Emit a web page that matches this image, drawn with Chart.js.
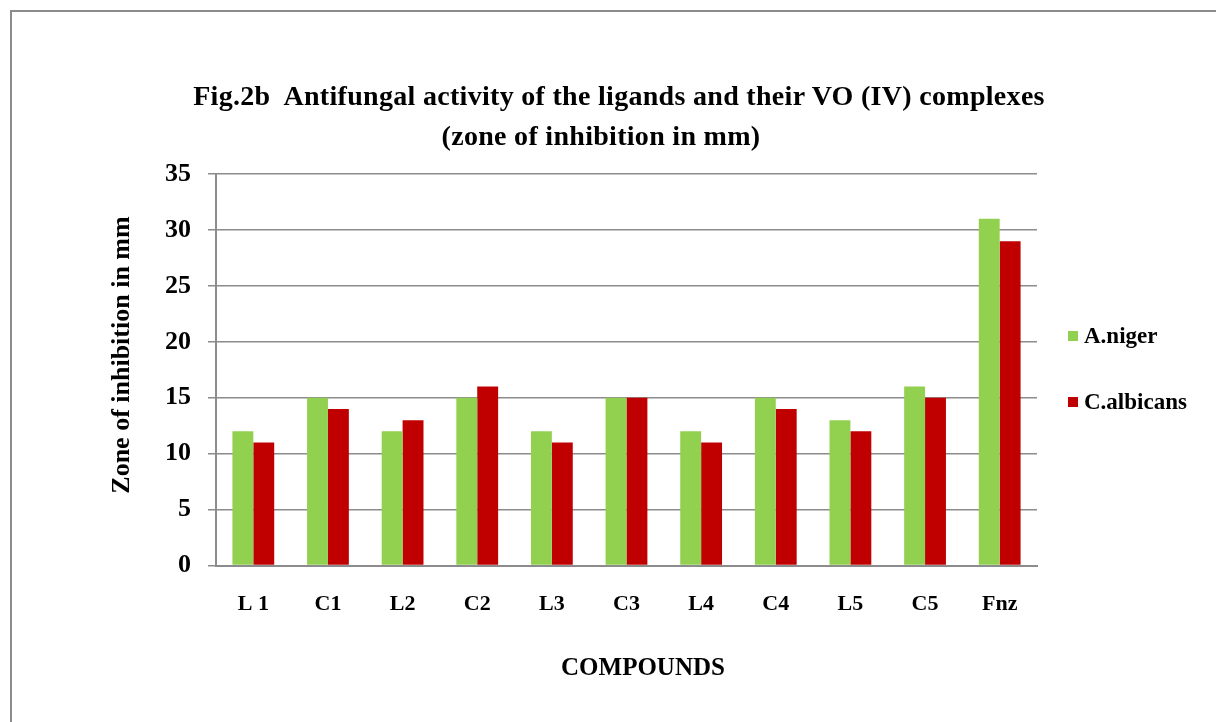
<!DOCTYPE html>
<html>
<head>
<meta charset="utf-8">
<script src="https://cdn.jsdelivr.net/npm/chart.js@4"></script>
<style>
  html, body { margin: 0; padding: 0; background: #fff; overflow: hidden; }
  #frame {
    position: absolute; left: 10px; top: 10px; width: 1400px; height: 900px;
    border: 2px solid #8c8c8c; box-sizing: border-box;
  }
  #wrap { position: absolute; left: 0; top: 0; width: 1216px; height: 722px; }
  .txt { position: absolute; font-family: "Liberation Serif", "Times New Roman", serif; font-weight: bold; color: #000; white-space: nowrap; }
  .tit { left: 0; text-align: center; font-size: 28px; line-height: 37px; letter-spacing: 0.3px; }
  #tituloX { left: 0; width: 1286px; top: 652px; text-align: center; font-size: 25px; line-height: 30px; }
  #tituloY {
    left: -79px; top: 340px; width: 400px; text-align: center; font-size: 26px; line-height: 30px;
    transform: rotate(-90deg); transform-origin: 50% 50%;
  }
  .leg { left: 1068px; font-size: 23px; line-height: 26px; display: flex; align-items: center; }
  .leg i { display: inline-block; width: 10px; height: 10px; margin-right: 6px; }
</style>
</head>
<body>
<div id="frame"></div>
<div id="wrap"><canvas id="grafico" width="1216" height="722"></canvas></div>
<div class="txt tit" style="top:77px; width:1238px">Fig.2b&nbsp; Antifungal activity of the ligands and their VO (IV) complexes</div>
<div class="txt tit" style="top:117px; width:1202px">(zone of inhibition in mm)</div>
<div class="txt" id="tituloY">Zone of inhibition in mm</div>
<div class="txt" id="tituloX">COMPOUNDS</div>
<div class="txt leg" style="top:323px"><i style="background:#92d050"></i>A.niger</div>
<div class="txt leg" style="top:389px"><i style="background:#c00000"></i>C.albicans</div>
<script>
// datos
const etiquetasX = ['L 1', 'C1', 'L2', 'C2', 'L3', 'C3', 'L4', 'C4', 'L5', 'C5', 'Fnz'];
const aNiger     = [12, 15, 12, 15, 12, 15, 12, 15, 13, 16, 31];
const cAlbicans  = [11, 14, 13, 16, 11, 15, 11, 14, 12, 15, 29];
const ticksY     = [0, 5, 10, 15, 20, 25, 30, 35];

const SERIF = '"Liberation Serif", "Times New Roman", serif';
const GRIS = '#8c8c8c';

const ctx = document.getElementById('grafico');
new Chart(ctx, {
  type: 'bar',
  data: {
    labels: etiquetasX,
    datasets: [
      { label: 'A.niger', data: aNiger, backgroundColor: '#92d050', categoryPercentage: 0.56, barPercentage: 1 },
      { label: 'C.albicans', data: cAlbicans, backgroundColor: '#c00000', categoryPercentage: 0.56, barPercentage: 1 },
    ]
  },
  options: {
    responsive: false,
    animation: false,
    layout: { padding: { left: 148, right: 179, top: 174, bottom: 86 } },
    plugins: {
      legend: { display: false },
      tooltip: { enabled: false },
      title: { display: false }
    },
    scales: {
      x: {
        grid: { display: false },
        border: { display: true, color: GRIS, width: 2 },
        ticks: { color: '#000', font: { family: SERIF, size: 22, weight: 'bold' }, padding: 18, maxRotation: 0 }
      },
      y: {
        min: 0, max: 35,
        afterBuildTicks: axis => { axis.ticks = ticksY.map(v => ({ value: v })); },
        grid: { color: GRIS, lineWidth: 1.5, tickLength: 8, drawTicks: true },
        border: { display: true, color: GRIS, width: 2 },
        ticks: { color: '#000', font: { family: SERIF, size: 26, weight: 'bold' }, padding: 17 }
      }
    }
  }
});
</script>
</body>
</html>
